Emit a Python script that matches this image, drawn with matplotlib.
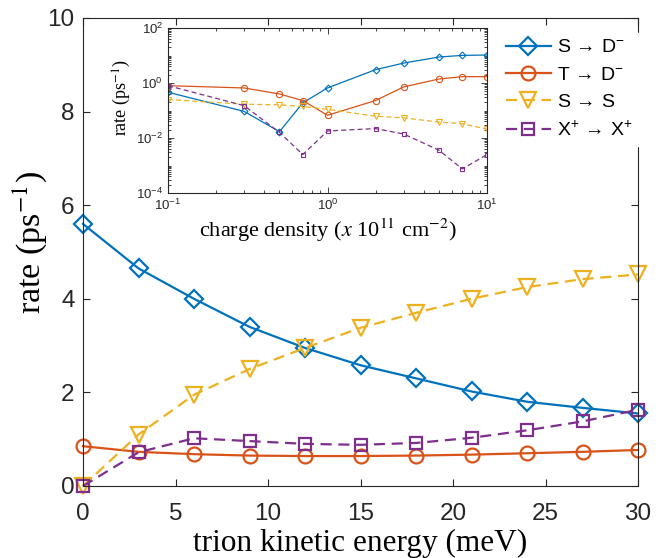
import matplotlib
matplotlib.use("Agg")
import matplotlib.pyplot as plt
from matplotlib.ticker import LogLocator, NullFormatter

# ---------------- data ----------------
energy = [0, 3, 6, 9, 12, 15, 18, 21, 24, 27, 30]
s_to_d = [5.6, 4.65, 4.0, 3.4, 2.95, 2.58, 2.3, 2.02, 1.8, 1.67, 1.55]
t_to_d = [0.85, 0.73, 0.68, 0.65, 0.64, 0.64, 0.65, 0.67, 0.70, 0.73, 0.77]
s_to_s = [0.0, 1.1, 1.95, 2.5, 2.95, 3.38, 3.7, 4.0, 4.25, 4.42, 4.52]
x_to_x = [0.0, 0.72, 1.02, 0.96, 0.90, 0.88, 0.92, 1.03, 1.19, 1.38, 1.63]

density = [0.1, 0.3, 0.5, 0.7, 1, 2, 3, 5, 7, 10]
in_s_to_d = [0.46, 0.093, 0.017, 0.19, 0.66, 3.05, 5.3, 8.8, 10.1, 10.4]
in_t_to_d = [0.80, 0.66, 0.40, 0.23, 0.067, 0.23, 0.72, 1.40, 1.70, 1.70]
in_s_to_s = [0.25, 0.17, 0.16, 0.14, 0.11, 0.062, 0.054, 0.038, 0.033, 0.021]
in_x_to_x = [0.80, 0.15, 0.016, 0.0025, 0.018, 0.022, 0.014, 0.0036, 0.00075, 0.0025]

labels = [r'S$\,\rightarrow\,$D$^{\mathregular{-}}$', r'T$\,\rightarrow\,$D$^{\mathregular{-}}$',
          r'S$\,\rightarrow\,$S', r'X$^{\mathregular{+}}\,\rightarrow\,$X$^{\mathregular{+}}$']

# ---------------- style ----------------
plt.rcParams['font.family'] = ['Liberation Sans', 'DejaVu Sans']
plt.rcParams['mathtext.fontset'] = 'custom'
plt.rcParams['mathtext.rm'] = 'Liberation Sans'
plt.rcParams['mathtext.it'] = 'Liberation Sans:italic'
plt.rcParams['mathtext.fallback'] = 'cm'

blue = '#0072BD'
orange = '#D95319'
yellow = '#EDB120'
purple = '#7E2F8E'
axc = '#262626'

fig = plt.figure(figsize=(6.67, 5.58), dpi=100)
ax = fig.add_axes([83/667, 1 - 486/558, (638-83)/667, (486-18)/558])

lw = 1.6
kw = dict(lw=lw, mfc='none', mew=1.6, clip_on=False)
ax.plot(energy, s_to_d, '-', color=blue, marker='D', ms=9.5, label=labels[0], **kw)
ax.plot(energy, t_to_d, '-', color=orange, marker='o', ms=10, label=labels[1], **kw)
ax.plot(energy, s_to_s, '--', color=yellow, marker='v', ms=11, dashes=(5, 3), label=labels[2], **kw)
ax.plot(energy, x_to_x, '--', color=purple, marker='s', ms=8.5, dashes=(5, 3), label=labels[3], **kw)

ax.set_xlim(0, 30)
ax.set_ylim(0, 10)
ax.set_xticks(range(0, 31, 5))
ax.set_yticks(range(0, 11, 2))
ax.tick_params(direction='in', top=True, right=True, labelsize=17.5, colors=axc, length=5, width=0.8)
ax.tick_params(axis='y', pad=6)
ax.tick_params(axis='x', pad=12)
for s in ax.spines.values():
    s.set_color(axc)
    s.set_linewidth(0.8)

ax.set_xlabel('trion kinetic energy (meV)', fontfamily='Liberation Serif', fontsize=22.5, color='black')
ax.xaxis.set_label_coords(0.5, -0.092, transform=ax.transAxes)
ax.xaxis.label.set_va('top')
ax.set_ylabel('rate (ps$^{-1}$)', fontfamily='Liberation Serif', math_fontfamily='stix', fontsize=24.5, color='black')
ax.yaxis.set_label_coords(-0.095, 0.52)
ax.yaxis.label.set_va('center')

leg = ax.legend(loc='upper left', bbox_to_anchor=(500/667, 1 - 33/558), bbox_transform=fig.transFigure,
                fontsize=14, frameon=True,
                fancybox=False, edgecolor='white', facecolor='white', framealpha=1,
                handlelength=2.3, handletextpad=0.35, labelspacing=0.5, borderpad=0.3,
                borderaxespad=0.0)

# ---------------- inset ----------------
ins = fig.add_axes([168/667, 1 - 193/558, (487-168)/667, (193-28)/558])
ilw = 0.9
ins.plot(density, in_s_to_d, '-', color=blue, lw=ilw, marker='D', ms=3.5, mfc='none', mew=0.8)
ins.plot(density, in_t_to_d, '-', color=orange, lw=ilw, marker='o', ms=4.5, mfc='none', mew=0.8)
ins.plot(density, in_s_to_s, '--', color=yellow, lw=ilw, marker='v', ms=5, mfc='none', mew=0.8, dashes=(4, 2.5))
ins.plot(density, in_x_to_x, '--', color=purple, lw=ilw, marker='s', ms=3.5, mfc='none', mew=0.8, dashes=(4, 2.5))
ins.set_xscale('log')
ins.set_yscale('log')
ins.set_xlim(0.1, 10)
ins.set_ylim(1e-4, 1e2)
ins.set_yticks([1e-4, 1e-2, 1e0, 1e2])
ins.yaxis.set_minor_locator(LogLocator(base=10, subs='all', numticks=20))
ins.yaxis.set_minor_formatter(NullFormatter())
ins.tick_params(which='both', direction='in', top=True, right=True, colors=axc, labelsize=9.5, width=0.6)
ins.tick_params(which='major', length=4)
ins.tick_params(which='minor', length=2)
for s in ins.spines.values():
    s.set_color(axc)
    s.set_linewidth(0.8)
ins.set_xlabel(r'charge density ($\mathit{x}$ 10$^{11}$ cm$^{-2}$)', fontfamily='Liberation Serif',
               math_fontfamily='stix', fontsize=16, color='black', labelpad=2.5)
ins.set_ylabel('rate (ps$^{-1}$)', fontfamily='Liberation Serif', math_fontfamily='stix', fontsize=13, color='black')
ins.yaxis.set_label_coords(-0.145, 0.58)
ins.yaxis.label.set_va('center')

fig.savefig('out.png', dpi=100)
